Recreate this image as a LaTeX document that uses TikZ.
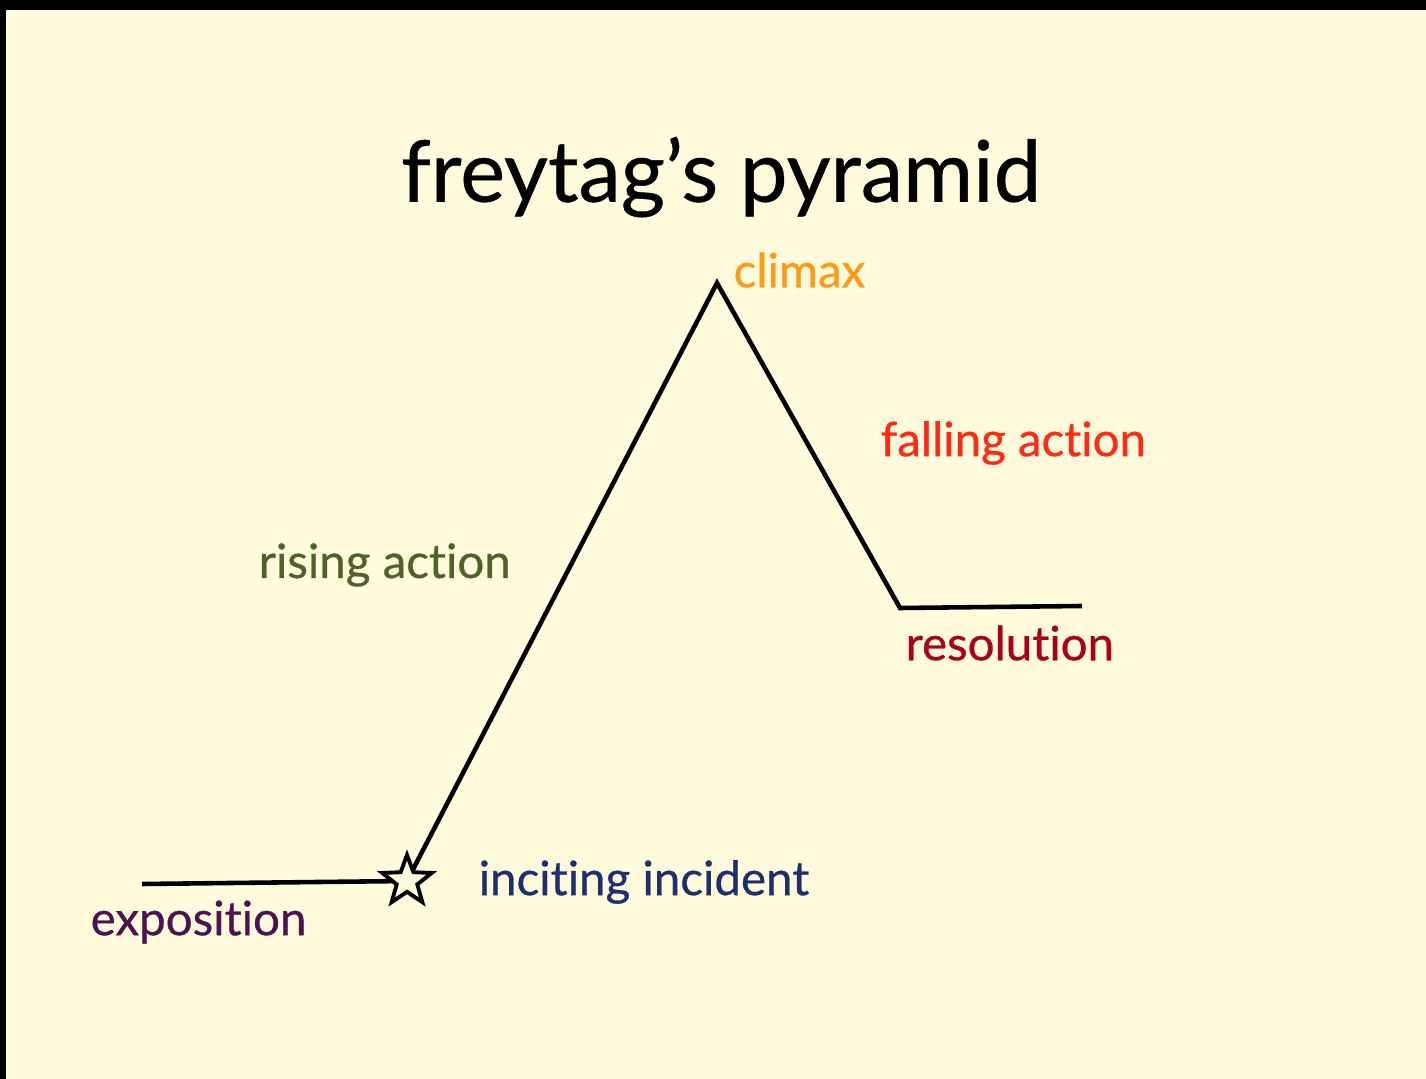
\documentclass[tikz,border=0pt]{standalone}
\usepackage{fontspec}
\setmainfont{Lato}[Ligatures=CommonOff]
\usetikzlibrary{shapes.geometric}
\definecolor{paper}{HTML}{FFFBDC}
\definecolor{climaxc}{HTML}{FF9A16}
\definecolor{fallc}{HTML}{FF2A14}
\definecolor{risec}{HTML}{4F6228}
\definecolor{resc}{HTML}{A8001E}
\definecolor{incc}{HTML}{1F2F6E}
\definecolor{expc}{HTML}{4B1350}
\pgfdeclarelayer{bg}
\pgfsetlayers{bg,main}

\begin{document}
\begin{tikzpicture}[
  x=0.01cm, y=-0.01cm,
  plotline/.style={draw=black, line width=1.3pt},
  stage/.style={font=\fontsize{13.5}{15}\selectfont\addfontfeature{FakeBold=0.6}, anchor=west, inner sep=0pt},
  markstar/.style={star, star points=5, star point ratio=2.4, minimum size=0.52cm, inner sep=0pt, draw=black, fill=paper, line width=1.1pt},
]
\useasboundingbox (0,0) rectangle (1426,1079);

\node[font=\fontsize{24.2}{29}\selectfont\addfontfeature{FakeBold=0.5}, inner sep=0pt] (title) at (721,177) {freytag’s pyramid};

\coordinate (expstart) at (142,884);
\coordinate (peak) at (717,283);
\coordinate (valley) at (900,608);
\coordinate (resend) at (1082,606);
\node[markstar] (inciting) at (407,881) {};

\begin{pgfonlayer}{bg}
\fill[black] (0,0) rectangle (1426,1079);
\fill[paper] (6,10) rectangle (1426,1079);
\draw[plotline] (expstart) -- (inciting.center) -- (peak) -- (valley) -- (resend);
\end{pgfonlayer}

\node[stage, text=climaxc] (climax) at (733,270) {climax};
\node[stage, text=fallc] (falling) at (880,443) {falling action};
\node[stage, text=risec] (rising) at (258,565) {rising action};
\node[stage, text=resc] (resolution) at (905,643) {resolution};
\node[stage, text=incc] (incident) at (478,882) {inciting incident};
\node[stage, text=expc] (exposition) at (90,922) {exposition};

\end{tikzpicture}
\end{document}
